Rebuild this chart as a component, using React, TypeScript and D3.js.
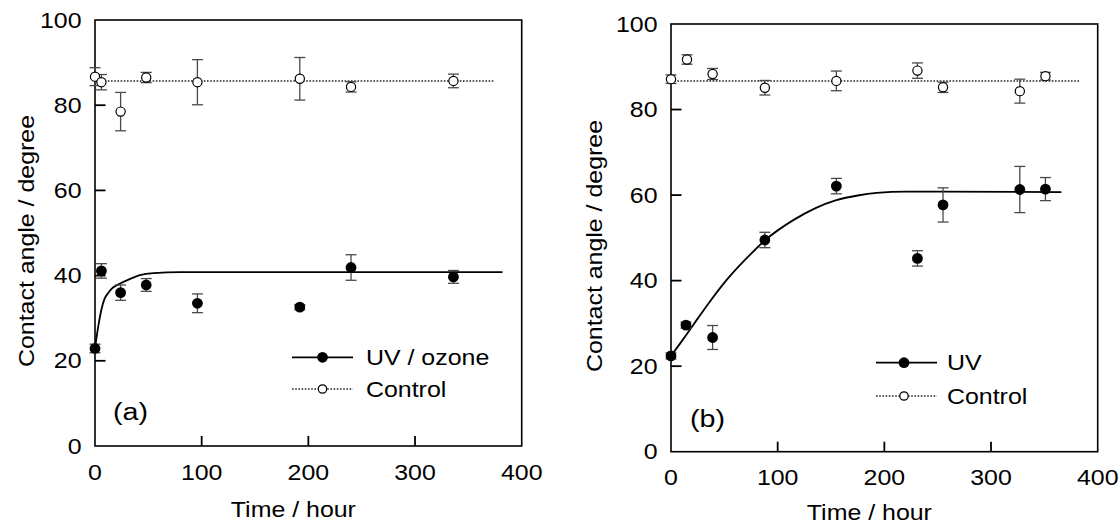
import React from "react";
import * as d3 from "d3";

// ---------- Panel (a): UV / ozone ----------
const timeA_uv = [0, 6, 24, 48, 96, 192, 240, 336];
const angleA_uv = [22.9, 41.1, 36.0, 37.8, 33.5, 32.6, 41.9, 39.7];
const errA_uv = [1.0, 1.7, 1.8, 1.5, 2.2, 0.6, 3.0, 1.5];
const timeA_ctrl = [0, 6, 24, 48, 96, 192, 240, 336];
const angleA_ctrl = [86.7, 85.4, 78.5, 86.5, 85.4, 86.2, 84.3, 85.7];
const errA_ctrl = [2.1, 1.8, 4.5, 1.2, 5.3, 5.0, 1.2, 1.6];
const fitA_t = [0, 3, 6, 9, 12, 16, 24, 32, 42, 55, 80, 382];
const fitA_v = [22.9, 28, 32, 34.6, 35.8, 37, 38.2, 39.1, 40.1, 40.6, 40.8, 40.8];
const ctrlA_t = [0, 374];
const ctrlA_v = [85.7, 85.7];

// ---------- Panel (b): UV ----------
const timeB_uv = [0, 14, 39, 88, 155, 231, 255, 327, 351];
const angleB_uv = [22.4, 29.6, 26.7, 49.5, 62.1, 45.2, 57.7, 61.3, 61.4];
const errB_uv = [0.7, 0.7, 2.8, 1.8, 1.8, 1.8, 4.0, 5.4, 2.7];
const timeB_ctrl = [0, 15, 39, 88, 155, 231, 255, 327, 351];
const angleB_ctrl = [87.1, 91.7, 88.3, 85.1, 86.7, 89.1, 85.2, 84.3, 87.8];
const errB_ctrl = [1.0, 1.1, 1.3, 1.7, 2.3, 1.8, 1.2, 2.8, 0.9];
const fitB_t = [0, 12, 21, 35, 52, 70, 88, 115, 135, 155, 175, 193, 220, 250, 366];
const fitB_v = [22.4, 26.5, 29.7, 34.6, 40.1, 45.0, 49.4, 54.2, 56.9, 58.8, 59.9, 60.5, 60.8, 60.8, 60.7];
const ctrlB_t = [0, 384];
const ctrlB_v = [86.7, 86.7];

// ---------- Axes ----------
const xTicks = [0, 100, 200, 300, 400];
const yTicks = [0, 20, 40, 60, 80, 100];
const xTitle = "Time / hour";
const yTitle = "Contact angle / degree";

const FONT = "'Liberation Sans', Arial, Helvetica, sans-serif";
const SX = 1.17;

function T({ x, y, size = 21.3, anchor = "start", rotate = 0, children }: any) {
  return (
    <g transform={`translate(${x},${y}) rotate(${rotate}) scale(${SX},1)`}>
      <text x={0} y={0} fontSize={size} textAnchor={anchor} fontFamily={FONT} fill="#000">
        {children}
      </text>
    </g>
  );
}

function Panel({ box, uv, ctrl, fit, ctrlLine, label, uvName, legend, titles }: any) {
  const x = d3.scaleLinear().domain([0, 400]).range([box.left, box.right]);
  const y = d3.scaleLinear().domain([0, 100]).range([box.bottom, box.top]);
  const line = d3
    .line<number>()
    .x((_, i) => x(fit.t[i]))
    .y((v) => y(v))
    .curve(d3.curveMonotoneX);
  const cl = d3
    .line<number>()
    .x((_, i) => x(ctrlLine.t[i]))
    .y((v) => y(v));
  const cap = 5.5;
  const errColor = "#4a4a4a";

  const bars = (s: any, key: string) =>
    s.t.map((t: number, i: number) => {
      const cx = x(t);
      const y1 = y(s.v[i] + s.e[i]);
      const y2 = y(s.v[i] - s.e[i]);
      return (
        <g key={key + i} stroke={errColor} strokeWidth={1.3}>
          <line x1={cx} x2={cx} y1={y1} y2={y2} />
          <line x1={cx - cap} x2={cx + cap} y1={y1} y2={y1} />
          <line x1={cx - cap} x2={cx + cap} y1={y2} y2={y2} />
        </g>
      );
    });

  const midX = (box.left + box.right) / 2;
  return (
    <g>
      {/* frame */}
      <rect
        x={box.left}
        y={box.top}
        width={box.right - box.left}
        height={box.bottom - box.top}
        fill="none"
        stroke="#000"
        strokeWidth={1.6}
      />
      {/* ticks */}
      {xTicks.slice(1, -1).map((t) => (
        <line key={"xt" + t} x1={x(t)} x2={x(t)} y1={box.bottom} y2={box.bottom - 10} stroke="#000" strokeWidth={1.8} />
      ))}
      {yTicks.slice(1, -1).map((t) => (
        <line key={"yt" + t} x1={box.left} x2={box.left + 10.5} y1={y(t)} y2={y(t)} stroke="#000" strokeWidth={1.8} />
      ))}
      {/* tick labels */}
      {xTicks.map((t) => (
        <T key={"xl" + t} x={x(t)} y={box.bottom + 33.5} anchor="middle">
          {String(t)}
        </T>
      ))}
      {yTicks.map((t) => (
        <T key={"yl" + t} x={box.left - 13.5} y={y(t) + 7.6} anchor="end">
          {String(t)}
        </T>
      ))}
      {/* titles */}
      <T x={midX - 15} y={box.bottom + titles.xOff} anchor="middle">
        {xTitle}
      </T>
      <T x={titles.yX} y={titles.yY} anchor="middle" rotate={-90}>
        {yTitle}
      </T>

      {/* lines */}
      <path d={cl(ctrlLine.v) || ""} fill="none" stroke="#222" strokeWidth={1.5} strokeDasharray="1.6 1.6" />
      <path d={line(fit.v) || ""} fill="none" stroke="#000" strokeWidth={1.8} />

      {/* error bars */}
      {bars(ctrl, "ce")}
      {bars(uv, "ue")}
      {/* markers */}
      {ctrl.t.map((t: number, i: number) => (
        <circle key={"co" + i} cx={x(t)} cy={y(ctrl.v[i])} r={4.6} fill="#fff" stroke="#000" strokeWidth={1.2} />
      ))}
      {uv.t.map((t: number, i: number) => (
        <circle key={"uo" + i} cx={x(t)} cy={y(uv.v[i])} r={5.4} fill="#000" />
      ))}

      {/* legend */}
      <line x1={legend.x0} x2={legend.x1} y1={legend.y1} y2={legend.y1} stroke="#000" strokeWidth={1.8} />
      <circle cx={legend.cx} cy={legend.y1} r={5.4} fill="#000" />
      <T x={legend.tx} y={legend.y1 + 7.6}>{uvName}</T>
      <line
        x1={legend.x0}
        x2={legend.x1}
        y1={legend.y2}
        y2={legend.y2}
        stroke="#222"
        strokeWidth={1.5}
        strokeDasharray="1.6 1.6"
      />
      <circle cx={legend.cx} cy={legend.y2} r={4.2} fill="#fff" stroke="#000" strokeWidth={1.2} />
      <T x={legend.tx} y={legend.y2 + 7.6}>Control</T>

      {/* panel label */}
      <T x={label.x} y={label.y} size={24.5}>
        {label.text}
      </T>
    </g>
  );
}

export default function App() {
  return (
    <svg
      width={1120}
      height={525}
      style={{ position: "absolute", left: 0, top: 0, background: "#fff" }}
    >
      <rect x={0} y={0} width={1120} height={525} fill="#fff" />
      <Panel
        box={{ left: 95, right: 521.7, top: 20, bottom: 446 }}
        uv={{ t: timeA_uv, v: angleA_uv, e: errA_uv }}
        ctrl={{ t: timeA_ctrl, v: angleA_ctrl, e: errA_ctrl }}
        fit={{ t: fitA_t, v: fitA_v }}
        ctrlLine={{ t: ctrlA_t, v: ctrlA_v }}
        label={{ x: 113, y: 420, text: "(a)" }}
        uvName="UV / ozone"
        legend={{ x0: 292, x1: 353, cx: 322.5, tx: 366, y1: 357.3, y2: 389 }}
        titles={{ xOff: 71, yX: 33.5, yY: 241 }}
      />
      <Panel
        box={{ left: 671, right: 1097.7, top: 24, bottom: 451.7 }}
        uv={{ t: timeB_uv, v: angleB_uv, e: errB_uv }}
        ctrl={{ t: timeB_ctrl, v: angleB_ctrl, e: errB_ctrl }}
        fit={{ t: fitB_t, v: fitB_v }}
        ctrlLine={{ t: ctrlB_t, v: ctrlB_v }}
        label={{ x: 690, y: 426.5, text: "(b)" }}
        uvName="UV"
        legend={{ x0: 876, x1: 937, cx: 904, tx: 947, y1: 362.7, y2: 396 }}
        titles={{ xOff: 68.5, yX: 602, yY: 246 }}
      />
    </svg>
  );
}
